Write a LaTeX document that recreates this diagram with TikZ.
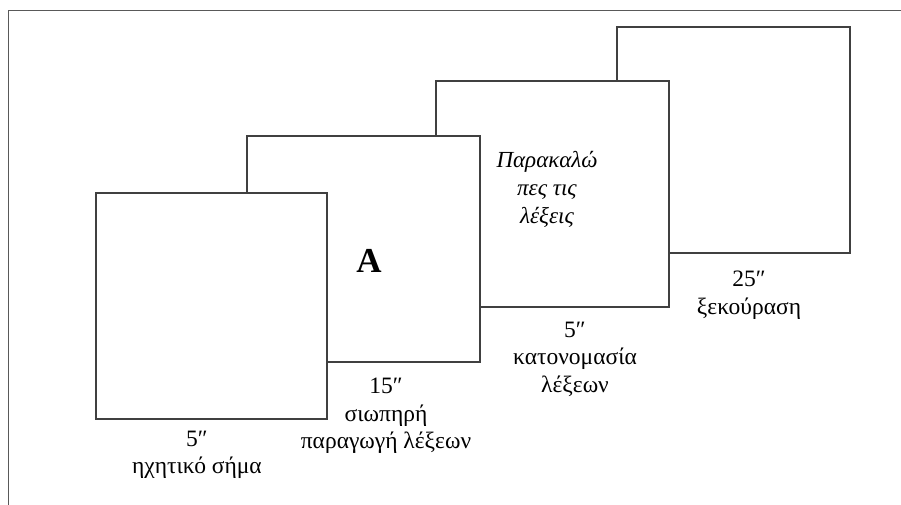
\documentclass[tikz,border=0pt]{standalone}
\usepackage{fontspec}
\setmainfont{Liberation Serif}
\begin{document}
\begin{tikzpicture}[x=1pt,y=-1pt,
  card/.style={draw=black!75, line width=1.5pt, fill=white, anchor=north west,
    minimum width=233pt, minimum height=226pt, inner sep=0pt, outer sep=0pt},
  frameline/.style={draw=black!65, line width=1pt},
  lbl/.style={font=\fontsize{23.5}{27.5}\selectfont, align=center, inner sep=0pt, text=black},
  say/.style={font=\fontsize{23}{28}\selectfont\itshape, align=center, inner sep=0pt, text=black},
  big/.style={font=\fontsize{35}{40}\selectfont\bfseries, inner sep=0pt, text=black}]
\useasboundingbox (0,0) rectangle (901,505);
\coordinate (fa) at (8,505);
\coordinate (fb) at (8,11);
\coordinate (fc) at (901,11);
\draw[frameline] (fa) -- (fb) -- (fc);
\node[card] (b4) at (617,27) {};
\node[card] (b3) at (436,81) {};
\node[card] (b2) at (247,136) {};
\node[card, minimum width=231pt] (b1) at (96,193) {};
\node[big] (tA) at (369,261) {A};
\node[say] (tp) at (547,189) {Παρακαλώ\\πες τις\\λέξεις};
\node[lbl] (l1) at (197,455) {5″\\ηχητικό σήμα};
\node[lbl] (l2) at (386,416) {15″\\σιωπηρή\\παραγωγή λέξεων};
\node[lbl] (l3) at (575,359) {5″\\κατονομασία\\λέξεων};
\node[lbl] (l4) at (749,295) {25″\\ξεκούραση};
\end{tikzpicture}
\end{document}
